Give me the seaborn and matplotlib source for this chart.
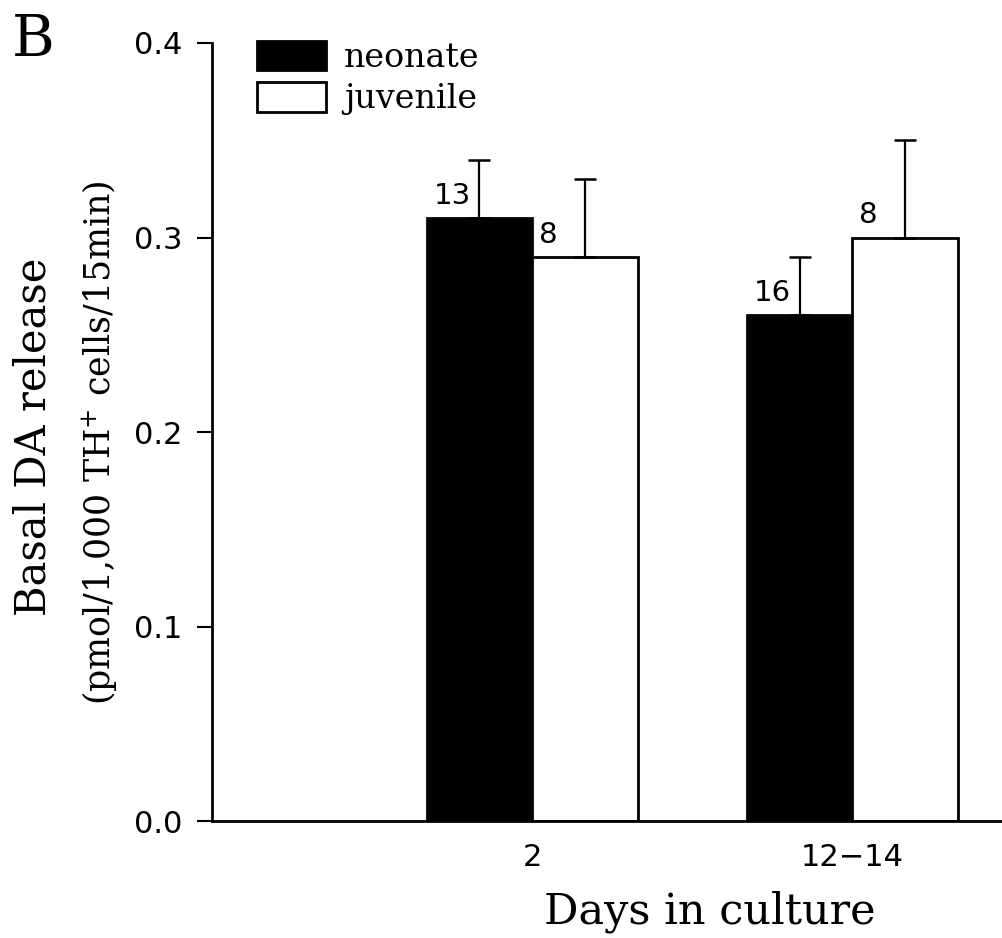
import numpy as np
import pandas as pd
import matplotlib
matplotlib.use("Agg")
import matplotlib.pyplot as plt
import seaborn as sns

# ---- data ----
days = ["2", "12\u221214"]
groups = ["neonate", "juvenile"]
neonate_mean = [0.31, 0.26]
neonate_sem = [0.03, 0.03]
neonate_n = [13, 16]
juvenile_mean = [0.29, 0.30]
juvenile_sem = [0.04, 0.05]
juvenile_n = [8, 8]
yticks = [0.0, 0.1, 0.2, 0.3, 0.4]
colors = {"neonate": "black", "juvenile": "white"}

df = pd.DataFrame({
    "day": days + days,
    "group": ["neonate"] * 2 + ["juvenile"] * 2,
    "value": neonate_mean + juvenile_mean,
    "sem": neonate_sem + juvenile_sem,
    "n": neonate_n + juvenile_n,
})

sns.set_style("ticks")
plt.rcParams["font.family"] = ["DejaVu Serif"]
plt.rcParams["mathtext.fontset"] = "dejavuserif"
for k in ["text.color", "axes.labelcolor", "xtick.color", "ytick.color", "axes.edgecolor"]:
    plt.rcParams[k] = "black"

W, H = 1003, 938
fig = plt.figure(figsize=(W / 100, H / 100), dpi=100)
ax = fig.add_axes([212 / W, 1 - 821 / H, (W - 212) / W, (821 - 43) / H])

sns.barplot(data=df, x="day", y="value", hue="group", order=days,
            hue_order=groups, palette=colors, edgecolor="black",
            linewidth=2, width=0.66, errorbar=None, ax=ax, saturation=1)

# error bars and n labels, placed from the drawn bars
bars = [p for p in ax.patches if p.get_height() > 0]
bars = sorted(bars, key=lambda p: p.get_x())
lookup = {}
for _, r in df.iterrows():
    lookup[(r["day"], r["group"])] = r
ordered = []
for d in days:
    for g in groups:
        ordered.append(lookup[(d, g)])
for p, r in zip(bars, ordered):
    cx = p.get_x() + p.get_width() / 2
    top = p.get_height()
    ax.errorbar(cx, top, yerr=[[0], [r["sem"]]], fmt="none", ecolor="black",
                elinewidth=1.6, capsize=8, capthick=1.8, zorder=3)
    ax.annotate(str(r["n"]), xy=(p.get_x(), top), xytext=(5, 6),
                textcoords="offset points", ha="left", va="bottom",
                fontsize=21, family="DejaVu Sans")

ax.set_xlim(-1, 1.47)
ax.set_ylim(0, 0.4)
ax.set_yticks(yticks)
ax.set_yticklabels([f"{v:.1f}" for v in yticks], family="DejaVu Sans", fontsize=22)
ax.tick_params(axis="y", length=11, width=1.5, pad=10, direction="out")
ax.tick_params(axis="x", length=0, pad=16, labelsize=22)
for lab in ax.get_xticklabels():
    lab.set_family("DejaVu Sans")
sns.despine(ax=ax)
ax.spines["left"].set_linewidth(2)
ax.spines["bottom"].set_linewidth(2)

ax.set_xlabel("Days in culture", fontsize=31)
ax.xaxis.set_label_coords((710 - 212) / (W - 212), (821 - 923) / 778)
ax.xaxis.label.set_verticalalignment("baseline")
ax.xaxis.label.set_horizontalalignment("center")

ax.set_ylabel("Basal DA release", fontsize=30)
ax.yaxis.set_label_coords((34 - 212) / (W - 212), (821 - 437) / 778)
ax.yaxis.label.set_verticalalignment("center")
ax.yaxis.label.set_horizontalalignment("center")
ax.yaxis.label.set_rotation_mode("default")
ax.text((100 - 212) / (W - 212), (821 - 443) / 778,
        "(pmol/1,000 TH$^{+}$ cells/15min)", rotation=90, fontsize=25,
        ha="center", va="center", transform=ax.transAxes)

leg = ax.legend(loc="upper left", bbox_to_anchor=(257 / W, 1 - 41 / H),
                bbox_transform=fig.transFigure, frameon=False, fontsize=24,
                handlelength=2.06, handleheight=0.97, handletextpad=0.55,
                labelspacing=0.25, borderpad=0, borderaxespad=0, title=None)
for h in leg.legend_handles:
    h.set_edgecolor("black")
    h.set_linewidth(2)

fig.text(12 / W, 1 - 12 / H, "B", fontsize=42, ha="left", va="top")

fig.savefig("out.png", dpi=100)
